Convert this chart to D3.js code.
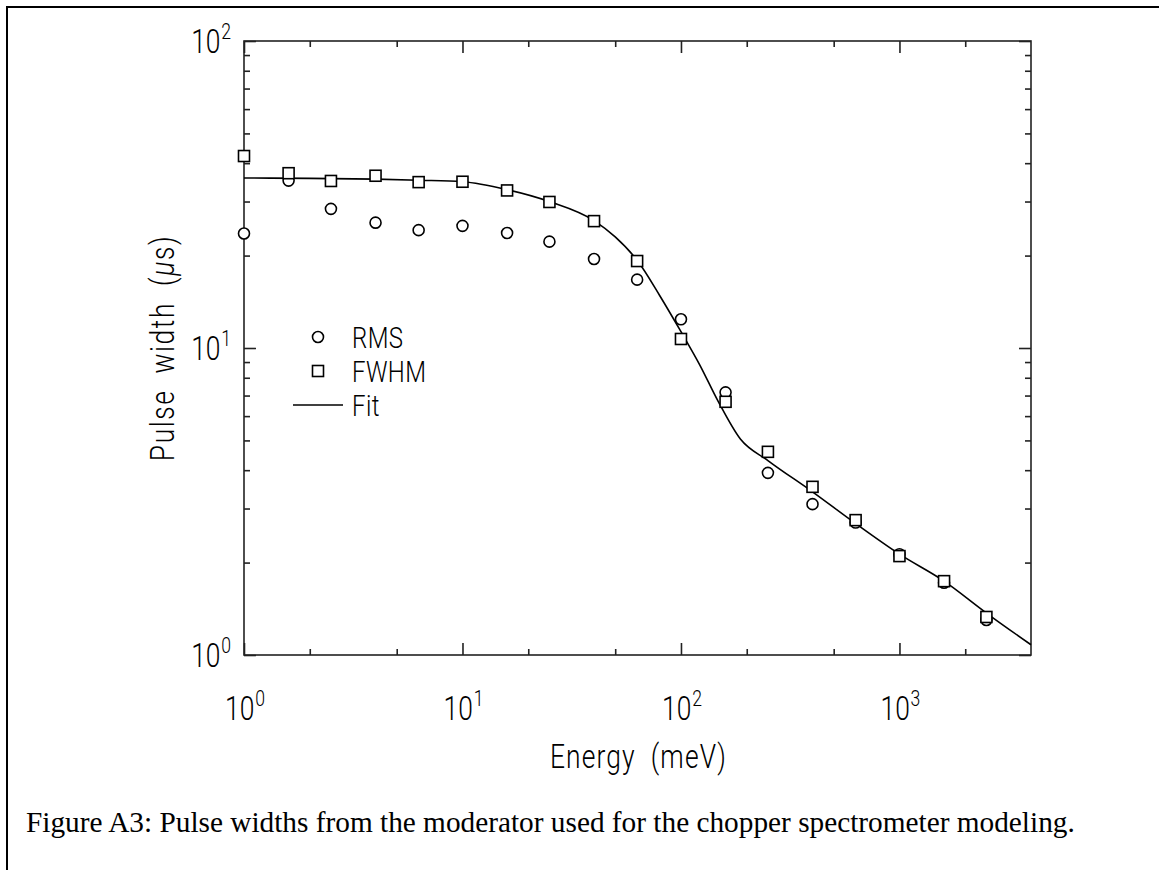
<!DOCTYPE html>
<html>
<head>
<meta charset="utf-8">
<script src="https://cdn.jsdelivr.net/npm/d3@7"></script>
<style>
  body { margin: 0; background: #fff; }
  .lbl { font-family: Roboto, "Liberation Sans", Arial, sans-serif; font-weight: 300; fill: #000; }
  .cap { font-family: "Liberation Serif", "Times New Roman", serif; fill: #000; }
</style>
</head>
<body>
<div id="chart"></div>
<script>
// ==============================
// Data
// ==============================
var energies = [1, 1.6, 2.5, 4, 6.3, 10, 16, 25, 40, 63, 100, 160, 250, 400, 630, 1000, 1600, 2500];
var rmsWidth = [23.6, 35.1, 28.4, 25.6, 24.2, 25.0, 23.7, 22.2, 19.5, 16.7, 12.4, 7.17, 3.92, 3.10, 2.70, 2.13, 1.72, 1.30];
var fwhmWidth = [42.2, 37.1, 35.0, 36.4, 34.7, 34.8, 32.6, 29.9, 25.9, 19.2, 10.7, 6.68, 4.59, 3.53, 2.75, 2.10, 1.74, 1.33];

// fit curve samples
var fitEnergy = [1, 2, 4, 6.3, 10, 16, 25, 40, 50, 63, 80, 100, 122, 148, 187, 250, 400, 630, 1000, 1600, 2500, 4000];
var fitWidth = [35.8, 35.7, 35.5, 35.2, 34.8, 32.8, 30.0, 26.0, 23.0, 19.3, 14.8, 11.3, 8.8, 6.7, 5.05, 4.3, 3.40, 2.68, 2.13, 1.74, 1.37, 1.08];

var xMajor = [1, 10, 100, 1000];
var yMajor = [1, 10, 100];
var legendItems = ["RMS", "FWHM", "Fit"];

// ==============================
// Setup SVG Area
// ==============================
var svgWidth = 1159, svgHeight = 870;
var margin = { top: 41, right: 128, bottom: 215, left: 244 };
var width = svgWidth - margin.left - margin.right;
var height = svgHeight - margin.top - margin.bottom;
var squeeze = 0.8;   // narrow plotter-style lettering

var svg = d3.select("#chart").append("svg")
  .attr("width", svgWidth)
  .attr("height", svgHeight)
  .style("display", "block");

svg.append("rect").attr("width", svgWidth).attr("height", svgHeight).attr("fill", "#fff");

// figure frame (left and top edges visible)
svg.append("path")
  .attr("d", "M7," + svgHeight + "V7H" + svgWidth)
  .attr("fill", "none")
  .attr("stroke", "#000")
  .attr("stroke-width", 2);

var chartGroup = svg.append("g")
  .attr("transform", `translate(${margin.left}, ${margin.top})`);

// Scales
var xScale = d3.scaleLog().domain([1, 4000]).range([0, width]);
var yScale = d3.scaleLog().domain([1, 100]).range([height, 0]);

// minor tick values
var xMinor = [];
xMajor.forEach(function(d) { [2, 5].forEach(function(m) { if (d * m < 4000) xMinor.push(d * m); }); });
var yMinor = [];
[1, 10].forEach(function(d) { d3.range(2, 10).forEach(function(m) { yMinor.push(d * m); }); });

// squeezed text helper
function narrowText(parent, x, y, size, anchor, extra) {
  var g = parent.append("g")
    .attr("transform", `translate(${x}, ${y}) ${extra || ""} scale(${squeeze}, 1)`);
  return g.append("text")
    .attr("class", "lbl")
    .attr("font-size", size)
    .attr("text-anchor", anchor)
    .style("white-space", "pre");
}

// ==============================
// Axes (ticks pointing inward on all four sides)
// ==============================
function styleAxis(g) {
  g.select(".domain").remove();
  g.selectAll("line").attr("stroke", "#222").attr("stroke-width", 1.6);
  g.selectAll("text").remove();
}

chartGroup.append("g").attr("transform", `translate(0, ${height})`)
  .call(d3.axisBottom(xScale).tickValues(xMajor).tickSize(-12)).call(styleAxis);
chartGroup.append("g").attr("transform", `translate(0, ${height})`)
  .call(d3.axisBottom(xScale).tickValues(xMinor).tickSize(-6)).call(styleAxis);
chartGroup.append("g")
  .call(d3.axisTop(xScale).tickValues(xMajor).tickSize(-12)).call(styleAxis);
chartGroup.append("g")
  .call(d3.axisTop(xScale).tickValues(xMinor).tickSize(-6)).call(styleAxis);

chartGroup.append("g")
  .call(d3.axisLeft(yScale).tickValues(yMajor).tickSize(-12)).call(styleAxis);
chartGroup.append("g")
  .call(d3.axisLeft(yScale).tickValues(yMinor).tickSize(-6)).call(styleAxis);
chartGroup.append("g").attr("transform", `translate(${width}, 0)`)
  .call(d3.axisRight(yScale).tickValues(yMajor).tickSize(-12)).call(styleAxis);
chartGroup.append("g").attr("transform", `translate(${width}, 0)`)
  .call(d3.axisRight(yScale).tickValues(yMinor).tickSize(-6)).call(styleAxis);

// frame of the plot
chartGroup.append("rect")
  .attr("width", width).attr("height", height)
  .attr("fill", "none").attr("stroke", "#222").attr("stroke-width", 1.6);

// tick labels 10^n
function powerLabel(t, d) {
  t.append("tspan").text("10");
  t.append("tspan").attr("font-size", 22).attr("dy", -14).attr("dx", 1).text(Math.round(Math.log10(d)));
}

xMajor.forEach(function(d) {
  powerLabel(narrowText(chartGroup, xScale(d) + 1, height + 65, 33, "middle"), d);
});
yMajor.forEach(function(d) {
  powerLabel(narrowText(chartGroup, -13, yScale(d) + 12, 33, "end"), d);
});

// axis titles
narrowText(chartGroup, xScale(Math.sqrt(4000)) + 1, height + 113, 33, "middle")
  .style("letter-spacing", "1.4px")
  .text("Energy  (meV)");

var yTitle = narrowText(chartGroup, -70, height / 2, 33, "middle", "rotate(-90)")
  .style("letter-spacing", "2px");
yTitle.append("tspan").text("Pulse  width  (");
yTitle.append("tspan").attr("font-style", "italic").text("μ");
yTitle.append("tspan").text("s)");

// ==============================
// Fit line and data markers
// ==============================
var fitData = fitEnergy.map(function(e, i) { return { x: e, y: fitWidth[i] }; });
var line = d3.line()
  .x(d => xScale(d.x))
  .y(d => yScale(d.y))
  .curve(d3.curveMonotoneX);

chartGroup.append("path")
  .datum(fitData)
  .attr("d", line)
  .attr("fill", "none")
  .attr("stroke", "#000")
  .attr("stroke-width", 1.6);

var rmsData = energies.map(function(e, i) { return { x: e, y: rmsWidth[i] }; });
var fwhmData = energies.map(function(e, i) { return { x: e, y: fwhmWidth[i] }; });

chartGroup.selectAll(".rms").data(rmsData).enter().append("circle")
  .attr("class", "rms")
  .attr("cx", d => xScale(d.x))
  .attr("cy", d => yScale(d.y))
  .attr("r", 5.5)
  .attr("fill", "#fff").attr("stroke", "#000").attr("stroke-width", 1.6);

chartGroup.selectAll(".fwhm").data(fwhmData).enter().append("rect")
  .attr("class", "fwhm")
  .attr("x", d => xScale(d.x) - 5.5)
  .attr("y", d => yScale(d.y) - 5.5)
  .attr("width", 11).attr("height", 11)
  .attr("fill", "#fff").attr("stroke", "#000").attr("stroke-width", 1.6);

// ==============================
// Legend
// ==============================
var legend = svg.append("g").attr("transform", "translate(318, 337)");
var rowGap = 34;

legend.append("circle").attr("cx", 0).attr("cy", 0).attr("r", 5.5)
  .attr("fill", "#fff").attr("stroke", "#000").attr("stroke-width", 1.6);
legend.append("rect").attr("x", -5.5).attr("y", rowGap - 5.5).attr("width", 11).attr("height", 11)
  .attr("fill", "#fff").attr("stroke", "#000").attr("stroke-width", 1.6);
legend.append("line").attr("x1", -25).attr("x2", 25).attr("y1", 2 * rowGap).attr("y2", 2 * rowGap)
  .attr("stroke", "#000").attr("stroke-width", 1.6);

legendItems.forEach(function(d, i) {
  narrowText(legend, 34, i * rowGap + 11, 30, "start").style("letter-spacing", "0.5px").text(d);
});

// ==============================
// Caption
// ==============================
svg.append("text")
  .attr("class", "cap")
  .attr("x", 26)
  .attr("y", 832)
  .attr("font-size", 29.3)
  .text("Figure A3: Pulse widths from the moderator used for the chopper spectrometer modeling.");
</script>
</body>
</html>
